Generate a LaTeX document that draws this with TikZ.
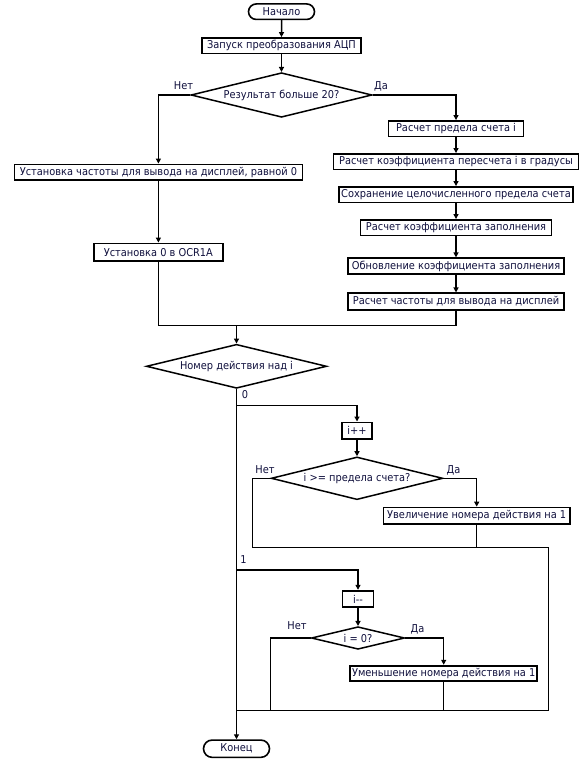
\documentclass[tikz,border=0pt]{standalone}
\usepackage{fontspec}
\setmainfont{DejaVu Sans}[FakeStretch=0.91]
\usetikzlibrary{shapes.geometric,shapes.misc,arrows.meta}
\definecolor{txt}{RGB}{15,15,60}
\tikzset{
  every node/.style={font=\fontsize{10.8pt}{12pt}\selectfont, text=txt},
  stepbox/.style={draw=black, line width=1.8pt, rectangle, inner sep=0pt, minimum height=15.5pt},
  termbox/.style={draw=black, line width=1.6pt, rounded rectangle, inner sep=0pt, minimum width=66pt, minimum height=15.5pt},
  decide/.style={draw=black, line width=1.5pt, diamond, aspect=4, inner sep=0pt},
  lbl/.style={inner sep=0pt},
  conn/.style={draw=black, line width=1.5pt},
  arr/.style={conn, -{Triangle[length=5pt,width=5pt]}},
}
\begin{document}
\begin{tikzpicture}[x=1pt,y=-1pt]
\useasboundingbox (0,0) rectangle (584,775);

% main column
\node[termbox] (start) at (281.5,11.7) {Начало};
\node[stepbox, minimum width=159pt] (b1) at (281.5,45.8) {Запуск преобразования АЦП};
\node[decide, minimum width=181pt, minimum height=44.6pt] (d1) at (281.5,95) {Результат больше 20?};
\node[lbl] (no1) at (183.5,86) {Нет};
\node[lbl] (yes1) at (381,86.5) {Да};

% left branch
\node[stepbox, minimum width=288pt] (bL1) at (158.4,172.2) {Установка частоты для вывода на дисплей, равной 0};
\node[stepbox, minimum width=129pt, minimum height=17.5pt] (bL2) at (158.4,252.2) {Установка 0 в OCR1A};

% right branch
\node[stepbox, minimum width=135pt] (r1) at (456,128.7) {Расчет предела счета i};
\node[stepbox, minimum width=245pt] (r2) at (456,161.7) {Расчет коэффициента пересчета i в градусы};
\node[stepbox, minimum width=233.5pt] (r3) at (456,194.7) {Сохранение целочисленного предела счета};
\node[stepbox, minimum width=191pt] (r4) at (456,227.7) {Расчет коэффициента заполнения};
\node[stepbox, minimum width=215.5pt, minimum height=16pt] (r5) at (456,266.3) {Обновление коэффициента заполнения};
\node[stepbox, minimum width=215.5pt, minimum height=16.5pt] (r6) at (456,301.6) {Расчет частоты для вывода на дисплей};

% second decision
\node[decide, minimum width=180.3pt, minimum height=44pt] (d2) at (236.5,366.3) {Номер действия над i};
\node[lbl] (zero) at (245,395) {0};

% branch 0
\node[stepbox, minimum width=30.7pt, minimum height=16.6pt] (ipp) at (357,430.7) {i++};
\node[decide, minimum width=171.6pt, minimum height=42.7pt] (d3) at (357,478.3) {i >= предела счета?};
\node[lbl] (no3) at (265,470) {Нет};
\node[lbl] (yes3) at (453.5,470) {Да};
\node[stepbox, minimum width=186.5pt, minimum height=16.5pt] (inc) at (476.7,515.8) {Увеличение номера действия на 1};

% branch 1
\node[lbl] (one) at (243.5,560) {1};
\node[stepbox, minimum width=31pt, minimum height=16.6pt] (idec) at (358,599) {i-{}-};
\node[decide, minimum width=93.3pt, minimum height=22.6pt] (d4) at (358,638) {i = 0?};
\node[lbl] (no4) at (297,626) {Нет};
\node[lbl] (yes4) at (417.5,629.3) {Да};
\node[stepbox, minimum width=186.7pt, minimum height=15pt] (dec) at (443.7,673.2) {Уменьшение номера действия на 1};

\node[termbox, minimum height=17.3pt] (end) at (236.5,748.7) {Конец};

% helper coordinates
\coordinate (m) at (236.5,325.7);
\coordinate (b0) at (236.5,405.7);
\coordinate (b1c) at (236.5,570);
\coordinate (bot) at (236.5,710.7);
\coordinate (n3) at (252.7,547.5);
\coordinate (r3c) at (548.5,547.5);
\coordinate (n4) at (270.7,710.7);

% connectors
\draw[arr] (start) -- (b1);
\draw[arr] (b1) -- (d1);
\draw[arr] (d1.west) -| (bL1.north);
\draw[arr] (bL1) -- (bL2);
\draw[arr] (d1.east) -| (r1.north);
\draw[arr] (r1) -- (r2);
\draw[arr] (r2) -- (r3);
\draw[arr] (r3) -- (r4);
\draw[arr] (r4) -- (r5);
\draw[arr] (r5) -- (r6);
\draw[conn] (bL2.south) |- (m) -| (r6.south);
\draw[arr] (m) -- (d2.north);
\draw[conn] (d2.south) -- (bot);
\draw[arr] (bot) -- (end.north);
\draw[arr] (b0) -| (ipp.north);
\draw[arr] (ipp) -- (d3);
\draw[arr] (d3.east) -| (inc.north);
\draw[conn] (d3.west) -| (n3) -- (r3c) |- (bot);
\draw[conn] (inc.south) -- (inc.south |- n3);
\draw[arr] (b1c) -| (idec.north);
\draw[arr] (idec) -- (d4);
\draw[arr] (d4.east) -| (dec.north);
\draw[conn] (d4.west) -| (n4);
\draw[conn] (dec.south) -- (dec.south |- bot);
\end{tikzpicture}
\end{document}
